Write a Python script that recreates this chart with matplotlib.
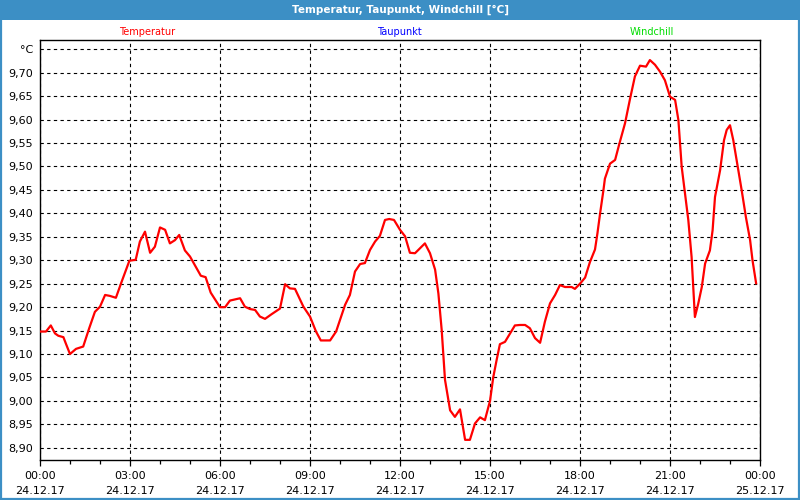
import matplotlib
matplotlib.use("Agg")
import matplotlib.pyplot as plt
from matplotlib.patches import Rectangle
from matplotlib.ticker import MultipleLocator, FuncFormatter

# hours since 24.12.17 00:00 and temperature in degC
hours = [0.0, 0.2, 0.36, 0.5, 0.61, 0.78, 0.87, 1.0, 1.2, 1.44, 1.64, 1.83, 2.0,
         2.17, 2.33, 2.53, 2.72, 2.98, 3.19, 3.33, 3.5, 3.67, 3.83, 4.0, 4.17,
         4.33, 4.5, 4.64, 4.83, 5.0, 5.2, 5.36, 5.52, 5.69, 6.0, 6.17, 6.33,
         6.67, 6.83, 7.0, 7.17, 7.33, 7.5, 7.72, 8.0, 8.17, 8.33, 8.5, 8.78,
         9.0, 9.2, 9.36, 9.67, 9.87, 10.0, 10.17, 10.33, 10.5, 10.67, 10.83,
         11.0, 11.17, 11.33, 11.5, 11.64, 11.8, 12.0, 12.17, 12.33, 12.5,
         12.83, 13.0, 13.17, 13.28, 13.39, 13.5, 13.67, 13.83, 14.0, 14.17,
         14.33, 14.5, 14.67, 14.83, 15.0, 15.11, 15.22, 15.33, 15.5, 15.67,
         15.83, 16.0, 16.17, 16.33, 16.5, 16.67, 16.83, 17.0, 17.17, 17.33,
         17.5, 17.72, 17.83, 18.0, 18.17, 18.33, 18.5, 18.58, 18.67, 18.78,
         18.83, 19.0, 19.17, 19.31, 19.5, 19.67, 19.83, 20.0, 20.2, 20.33,
         20.5, 20.67, 20.83, 21.0, 21.17, 21.28, 21.39, 21.5, 21.61, 21.72,
         21.83, 21.94, 22.06, 22.17, 22.33, 22.42, 22.5, 22.67, 22.8, 22.89,
         23.0, 23.11, 23.22, 23.39, 23.53, 23.67, 23.75, 23.87]
temp = [9.148, 9.148, 9.161, 9.144, 9.139, 9.136, 9.121, 9.100, 9.111, 9.116,
        9.155, 9.190, 9.201, 9.226, 9.224, 9.220, 9.254, 9.299, 9.301, 9.340,
        9.361, 9.316, 9.329, 9.370, 9.365, 9.336, 9.343, 9.354, 9.321, 9.308,
        9.285, 9.267, 9.264, 9.231, 9.200, 9.200, 9.214, 9.219, 9.201, 9.196,
        9.194, 9.180, 9.175, 9.185, 9.197, 9.249, 9.240, 9.239, 9.201, 9.180,
        9.148, 9.129, 9.129, 9.148, 9.173, 9.205, 9.226, 9.276, 9.292, 9.294,
        9.322, 9.340, 9.352, 9.386, 9.388, 9.386, 9.365, 9.351, 9.316, 9.315,
        9.336, 9.315, 9.280, 9.229, 9.151, 9.045, 8.980, 8.966, 8.982, 8.917,
        8.917, 8.952, 8.965, 8.959, 9.000, 9.051, 9.087, 9.121, 9.126, 9.144,
        9.161, 9.162, 9.162, 9.155, 9.134, 9.124, 9.169, 9.208, 9.226, 9.247,
        9.243, 9.243, 9.239, 9.250, 9.263, 9.296, 9.323, 9.357, 9.400, 9.449,
        9.474, 9.506, 9.514, 9.548, 9.592, 9.645, 9.692, 9.715, 9.713, 9.727,
        9.717, 9.702, 9.684, 9.649, 9.642, 9.599, 9.499, 9.443, 9.386, 9.307,
        9.179, 9.207, 9.243, 9.293, 9.321, 9.364, 9.435, 9.492, 9.556, 9.578,
        9.588, 9.556, 9.514, 9.449, 9.392, 9.343, 9.300, 9.251]

y_ticks = [8.90, 8.95, 9.00, 9.05, 9.10, 9.15, 9.20, 9.25, 9.30, 9.35, 9.40,
           9.45, 9.50, 9.55, 9.60, 9.65, 9.70, 9.75]
x_ticks = [0, 3, 6, 9, 12, 15, 18, 21, 24]
x_labels = ["00:00\n24.12.17", "03:00\n24.12.17", "06:00\n24.12.17",
            "09:00\n24.12.17", "12:00\n24.12.17", "15:00\n24.12.17",
            "18:00\n24.12.17", "21:00\n24.12.17", "00:00\n25.12.17"]
legend_names = ["Temperatur", "Taupunkt", "Windchill"]
legend_colors = ["#ff0000", "#0000ff", "#00dd00"]

bar_blue = "#3c8fc5"

fig = plt.figure(figsize=(8, 5), dpi=100)
fig.patch.set_facecolor("white")

# title bar and frame
fig.patches.append(Rectangle((0, 0.96), 1, 0.04, transform=fig.transFigure,
                             facecolor=bar_blue, edgecolor="none", zorder=0))
fig.patches.append(Rectangle((0.0012, 0.002), 0.9976, 0.996, transform=fig.transFigure,
                             facecolor="none", edgecolor=bar_blue, lw=1.6, zorder=0))
fig.text(0.5, 0.981, "Temperatur, Taupunkt, Windchill [°C]", color="white",
         fontsize=7.5, fontweight="bold", ha="center", va="center")

for name, col, xp in zip(legend_names, legend_colors, [0.184, 0.499, 0.815]):
    fig.text(xp, 0.936, name, color=col, fontsize=7, ha="center", va="center")

ax = fig.add_axes([0.05, 0.08, 0.90, 0.84])
ax.plot(hours, temp, color="#ff0000", lw=1.6, zorder=3)

ax.set_xlim(0, 24)
ax.set_ylim(8.874, 9.7698)
ax.set_xticks(x_ticks)
ax.set_xticklabels(x_labels, fontsize=8, linespacing=1.55)
ax.xaxis.set_minor_locator(MultipleLocator(1))
ax.set_yticks(y_ticks)
ax.yaxis.set_major_formatter(FuncFormatter(
    lambda v, p: "°C" if abs(v - 9.75) < 1e-6 else f"{v:.2f}".replace(".", ",")))
ax.tick_params(axis="y", length=0, pad=5, labelsize=8)
ax.tick_params(axis="x", which="major", length=4, width=0.9, pad=4, direction="out")
ax.tick_params(axis="x", which="minor", length=3, width=0.9, direction="out")

ax.grid(True, which="major", color="black", linestyle=(0, (3, 3)), lw=0.8)
for s in ax.spines.values():
    s.set_color("black")
    s.set_linewidth(1.0)

fig.savefig("out.png", dpi=100)
